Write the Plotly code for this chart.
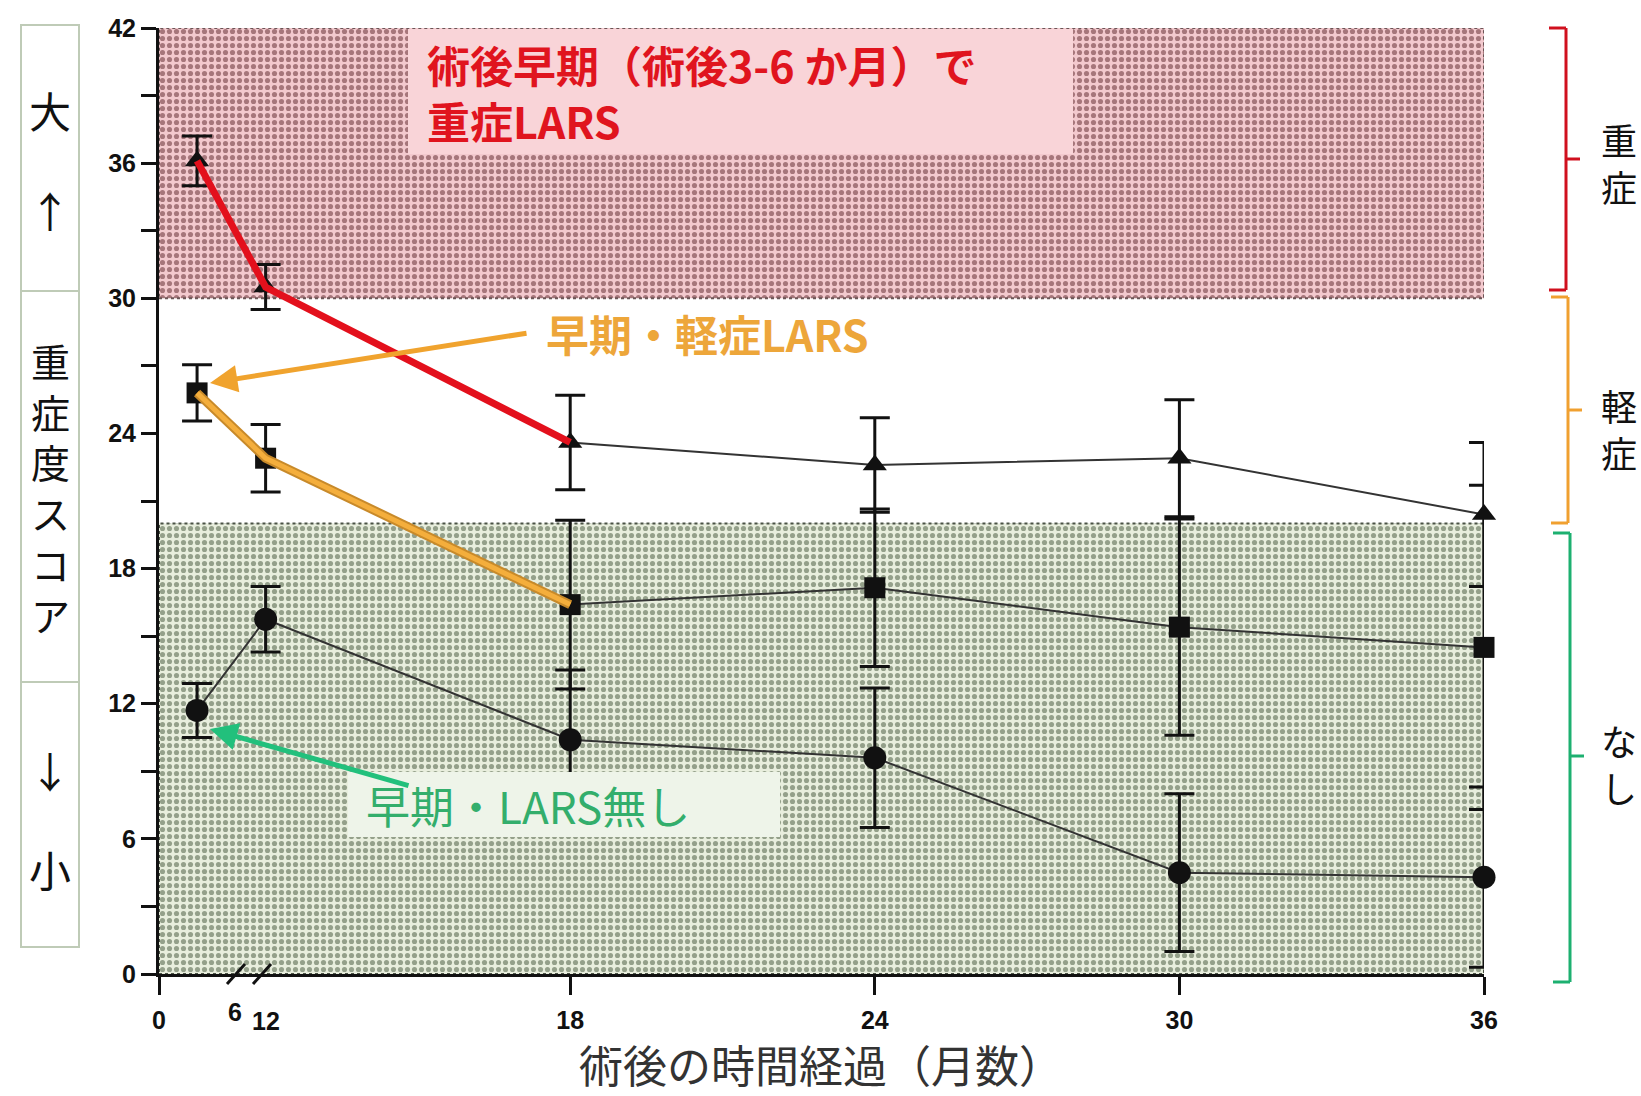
import plotly.graph_objects as go

# ---------------- data ----------------
months = [3, 12, 18, 24, 30, 36]
severe_mean = [36.1, 30.5, 23.6, 22.6, 22.9, 20.4]
severe_err = [1.1, 1.0, 2.1, 2.1, 2.6, 3.2]
mild_mean = [25.8, 22.9, 16.4, 17.15, 15.4, 14.5]
mild_err = [1.25, 1.5, 3.75, 3.5, 4.8, 7.2]
none_mean = [11.7, 15.75, 10.4, 9.6, 4.5, 4.3]
none_err = [1.2, 1.45, 3.1, 3.1, 3.5, 4.0]

x_tick_months = [0, 18, 24, 30, 36]
x_tick_text = ["0", "18", "24", "30", "36"]
x_break_months = [6, 12]
y_tick_vals = [0, 6, 12, 18, 24, 30, 36, 42]

severe_limit = 30
mild_limit = 20
y_max = 42

# ---------------- broken x axis mapping ----------------
def xpos(m):
    # 0-6 months compressed, then a break, continuous from 12 onward
    return m * 0.25 if m <= 6 else m - 9.9

X_MAX = xpos(36)

# ---------------- pixel helpers for decorations ----------------
W, H = 1641, 1096
L, R, T, B = 159, 1484, 28, 974


def px(x):
    return (x - L) / (R - L)


def py(y):
    return (B - y) / (B - T)


JP = "Noto Sans CJK JP"
NUM = "Liberation Sans"

fig = go.Figure()

# shaded zones
fig.add_trace(go.Scatter(
    x=[0, X_MAX, X_MAX, 0, 0], y=[severe_limit, severe_limit, y_max, y_max, severe_limit],
    mode="lines", fill="toself", line=dict(color="#6b5556", width=2, dash="dot"),
    fillcolor="#F2CDD0",
    fillpattern=dict(shape=".", bgcolor="#F3C9CE", fgcolor="#A6767B", size=7, solidity=0.42, fillmode="replace"),
    hoverinfo="skip", showlegend=False))
fig.add_trace(go.Scatter(
    x=[0, X_MAX, X_MAX, 0, 0], y=[0, 0, mild_limit, mild_limit, 0],
    mode="lines", fill="toself", line=dict(color="#4a5245", width=2, dash="dot"),
    fillcolor="#E6ECDD",
    fillpattern=dict(shape=".", bgcolor="#E8EEDD", fgcolor="#94A08A", size=7, solidity=0.42, fillmode="replace"),
    hoverinfo="skip", showlegend=False))

xs = [xpos(m) for m in months]

# error bars (clipped at the plot edge)
for mean, err in [(severe_mean, severe_err), (mild_mean, mild_err), (none_mean, none_err)]:
    fig.add_trace(go.Scatter(
        x=xs, y=mean, mode="markers", marker=dict(size=1, opacity=0),
        error_y=dict(type="data", array=err, color="#111", thickness=3, width=15),
        cliponaxis=True, hoverinfo="skip", showlegend=False))

# series lines + markers
for mean, sym, size in [(severe_mean, "triangle-up", 21), (mild_mean, "square", 21), (none_mean, "circle", 23)]:
    fig.add_trace(go.Scatter(
        x=xs, y=mean, mode="lines+markers",
        line=dict(color="#333", width=2),
        marker=dict(symbol=sym, size=size, color="#111"),
        cliponaxis=False, showlegend=False))

# highlighted early segments
fig.add_trace(go.Scatter(x=xs[:3], y=mild_mean[:3], mode="lines",
                         line=dict(color="#C88A2A", width=9), showlegend=False, hoverinfo="skip"))
fig.add_trace(go.Scatter(x=xs[:3], y=mild_mean[:3], mode="lines",
                         line=dict(color="#F4AE3C", width=5), showlegend=False, hoverinfo="skip"))
fig.add_trace(go.Scatter(x=xs[:3], y=severe_mean[:3], mode="lines",
                         line=dict(color="#E3101C", width=7), showlegend=False, hoverinfo="skip"))

shapes = []
annotations = []


def label(x, y, text, size, color, weight="normal", family=JP, xanchor="center", align="center"):
    annotations.append(dict(xref="paper", yref="paper", x=px(x), y=py(y), xanchor=xanchor, yanchor="middle",
                            text=text, showarrow=False, align=align,
                            font=dict(family=family, size=size, color=color, weight=weight)))


# red text box
shapes.append(dict(type="rect", xref="paper", yref="paper", x0=px(408), x1=px(1073), y0=py(154), y1=py(29),
                   fillcolor="#F9D4D8", line=dict(width=0), layer="above"))
label(425, 92, "術後早期（術後3-6 か月）で<br>重症LARS", 43, "#E0141E", "bold", xanchor="left", align="left")

# green text box
shapes.append(dict(type="rect", xref="paper", yref="paper", x0=px(348), x1=px(780), y0=py(837), y1=py(772),
                   fillcolor="#EEF4E9", line=dict(width=0), layer="above"))
label(364, 805, "早期・LARS無し", 44, "#33AE6C", xanchor="left", align="left")

# orange text
label(544, 333, "早期・軽症LARS", 43, "#EDA63A", "bold", xanchor="left", align="left")

# arrows
annotations.append(dict(xref="paper", yref="paper", x=px(210), y=py(383), ax=318, ay=-50,
                        axref="pixel", ayref="pixel", text="", showarrow=True,
                        arrowhead=2, arrowsize=1.1, arrowwidth=5, arrowcolor="#F0A32E"))
annotations.append(dict(xref="paper", yref="paper", x=px(210), y=py(729), ax=200, ay=57,
                        axref="pixel", ayref="pixel", text="", showarrow=True,
                        arrowhead=2, arrowsize=1.1, arrowwidth=5, arrowcolor="#22C07C"))

# left scale boxes
for y0, y1 in [(25, 291), (291, 682), (682, 947)]:
    shapes.append(dict(type="rect", xref="paper", yref="paper", x0=px(21), x1=px(79), y0=py(y1), y1=py(y0),
                       fillcolor="rgba(0,0,0,0)", line=dict(color="#BFCBB7", width=2)))
for txt, yc in [("大", 110), ("↑", 210), ("↓", 769), ("小", 868)]:
    label(50, yc, txt, 42, "#111")
label(50, 487, "重<br>症<br>度<br>ス<br>コ<br>ア", 39, "#111")

# right brackets
def bracket(xv, ytop, ybot, ytick, color):
    s = []
    s.append(dict(type="line", xref="paper", yref="paper", x0=px(xv), x1=px(xv), y0=py(ybot), y1=py(ytop),
                  line=dict(color=color, width=3)))
    s.append(dict(type="line", xref="paper", yref="paper", x0=px(xv - 17), x1=px(xv), y0=py(ytop), y1=py(ytop),
                  line=dict(color=color, width=3)))
    s.append(dict(type="line", xref="paper", yref="paper", x0=px(xv - 17), x1=px(xv), y0=py(ybot), y1=py(ybot),
                  line=dict(color=color, width=3)))
    s.append(dict(type="line", xref="paper", yref="paper", x0=px(xv), x1=px(xv + 14), y0=py(ytick), y1=py(ytick),
                  line=dict(color=color, width=3)))
    return s

shapes += bracket(1566, 28, 290, 159, "#D0101E")
shapes += bracket(1568, 297, 523, 410, "#F0A030")
shapes += bracket(1570, 533, 982, 756, "#1DB070")
for txt, yc in [("重<br>症", 162), ("軽<br>症", 428), ("な<br>し", 763)]:
    label(1619, yc, txt, 36, "#111")

# x axis break marks and the 6 / 12 labels
for xb in [236, 262]:
    shapes.append(dict(type="line", xref="paper", yref="paper", x0=px(xb - 9), x1=px(xb + 9),
                       y0=py(B + 10), y1=py(B - 10), line=dict(color="#111", width=3)))
annotations.append(dict(xref="x", yref="paper", x=xpos(x_break_months[0]), y=py(1012), xanchor="center",
                        yanchor="middle", text=str(x_break_months[0]), showarrow=False,
                        font=dict(family=NUM, size=25, color="#111", weight="bold")))
annotations.append(dict(xref="x", yref="paper", x=xpos(x_break_months[1]), y=py(1021), xanchor="center",
                        yanchor="middle", text=str(x_break_months[1]), showarrow=False,
                        font=dict(family=NUM, size=25, color="#111", weight="bold")))

# x axis title
label(821, 1064, "術後の時間経過（月数）", 44, "#333")

fig.update_layout(
    width=W, height=H, autosize=False,
    margin=dict(l=L, r=W - R, t=T, b=H - B, pad=0),
    paper_bgcolor="white", plot_bgcolor="white",
    showlegend=False,
    shapes=shapes, annotations=annotations,
    xaxis=dict(range=[0, X_MAX], tickvals=[xpos(m) for m in x_tick_months], ticktext=x_tick_text,
               ticks="outside", ticklen=18, tickwidth=3, tickcolor="#111", ticklabelstandoff=4,
               showline=True, linewidth=3, linecolor="#111", showgrid=False, zeroline=False,
               tickfont=dict(family=NUM, size=25, color="#111", weight="bold")),
    yaxis=dict(range=[0, y_max], tickvals=y_tick_vals,
               ticks="outside", ticklen=15, tickwidth=3, tickcolor="#111",
               minor=dict(dtick=3, ticks="outside", ticklen=15, tickwidth=3, tickcolor="#111", showgrid=False),
               showline=True, linewidth=3, linecolor="#111", showgrid=False, zeroline=False,
               tickfont=dict(family=NUM, size=25, color="#111", weight="bold")),
)

fig.write_html("out.html")
